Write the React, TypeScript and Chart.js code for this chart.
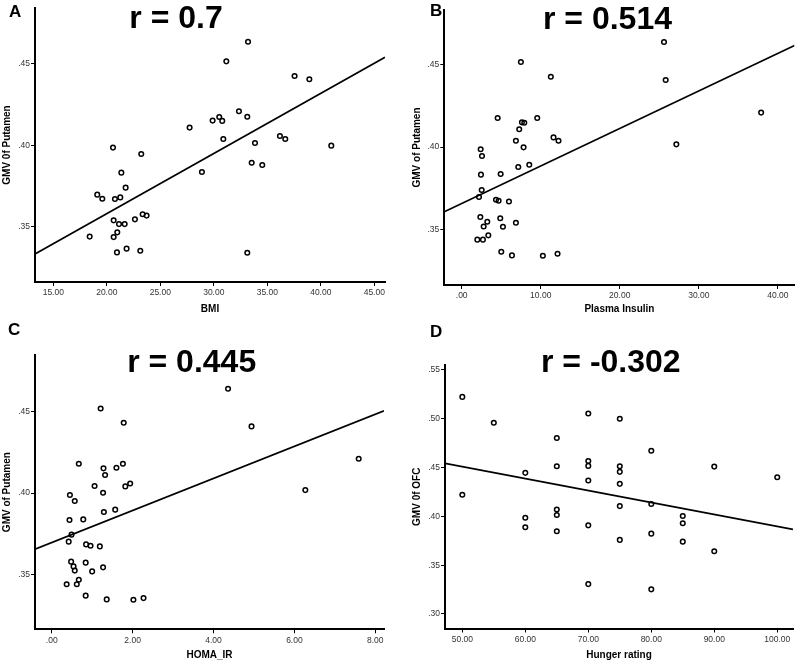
import React, { useEffect, useRef } from "react";
import { Chart, registerables } from "chart.js";
Chart.register(...registerables);

const FONT = "'Liberation Sans', Arial, Helvetica, sans-serif";

// ---------- Panel A: BMI vs GMV of Putamen ----------
const aBMI = [33.2, 31.17, 37.55, 38.93, 32.35, 30.51, 33.13, 29.89, 30.79, 27.74, 30.89, 36.18, 36.68, 33.85, 40.98, 20.58, 23.22, 33.54, 34.53, 28.89, 21.36, 21.76, 19.11, 19.58, 20.76, 21.26, 23.35, 23.72, 22.63, 20.64, 21.14, 21.67, 20.98, 18.4, 20.64, 21.85, 23.13, 20.95, 33.13];
const aGMV = [0.4637, 0.4516, 0.4426, 0.4406, 0.4209, 0.4174, 0.4176, 0.4152, 0.415, 0.4109, 0.4039, 0.4057, 0.4039, 0.4014, 0.3998, 0.3986, 0.3947, 0.3893, 0.3879, 0.3836, 0.3832, 0.374, 0.3697, 0.3672, 0.367, 0.368, 0.3576, 0.3568, 0.3545, 0.3539, 0.3516, 0.3516, 0.3465, 0.3439, 0.3436, 0.3365, 0.3352, 0.3342, 0.334];
const aXTicks = [15, 20, 25, 30, 35, 40, 45];
const aYTicks = [0.35, 0.4, 0.45];
const aFit = { intercept: 0.2841, slope: 0.003696 };

// ---------- Panel B: Plasma Insulin vs GMV of Putamen ----------
const bInsulin = [25.6, 7.49, 11.28, 25.81, 37.89, 4.55, 9.56, 7.62, 7.92, 7.28, 11.62, 12.25, 6.86, 27.16, 2.4, 7.83, 2.57, 8.55, 7.16, 2.44, 4.93, 2.53, 2.19, 4.34, 4.67, 5.98, 2.36, 4.88, 3.24, 6.86, 2.78, 5.22, 3.37, 1.98, 2.69, 5.01, 6.36, 10.27, 12.13];
const bGMV = [0.4635, 0.4514, 0.4425, 0.4405, 0.4208, 0.4175, 0.4175, 0.4149, 0.4147, 0.4107, 0.4058, 0.4038, 0.4038, 0.4016, 0.3986, 0.3998, 0.3946, 0.3893, 0.3879, 0.3833, 0.3837, 0.374, 0.3698, 0.3681, 0.3675, 0.3671, 0.3577, 0.3569, 0.3548, 0.3542, 0.352, 0.3518, 0.3466, 0.344, 0.344, 0.3367, 0.3345, 0.3343, 0.3355];
const bXTicks = [0, 10, 20, 30, 40];
const bYTicks = [0.35, 0.4, 0.45];
const bFit = { intercept: 0.3659, slope: 0.002267 };

// ---------- Panel C: HOMA_IR vs GMV of Putamen ----------
const cHoma = [4.36, 1.21, 1.78, 4.94, 7.59, 0.67, 1.76, 1.28, 1.6, 1.32, 1.94, 1.82, 1.06, 6.27, 0.45, 1.27, 0.57, 1.57, 1.29, 0.44, 0.78, 0.49, 0.42, 0.85, 0.96, 1.19, 0.48, 0.84, 0.54, 1.27, 0.57, 1.0, 0.67, 0.37, 0.62, 0.84, 1.36, 2.02, 2.27];
const cGMV = [0.4641, 0.452, 0.4432, 0.441, 0.4211, 0.418, 0.418, 0.4152, 0.4156, 0.4111, 0.4059, 0.4041, 0.4043, 0.4018, 0.3988, 0.4002, 0.3951, 0.3898, 0.3883, 0.3834, 0.3838, 0.3744, 0.3701, 0.3684, 0.3676, 0.3672, 0.3578, 0.3572, 0.3549, 0.3543, 0.3523, 0.3518, 0.3467, 0.3439, 0.3439, 0.3369, 0.3346, 0.3344, 0.3354];
const cXTicks = [0, 2, 4, 6, 8];
const cYTicks = [0.35, 0.4, 0.45];
const cFit = { intercept: 0.3696, slope: 0.009854 };

// ---------- Panel D: Hunger rating vs GMV of OFC ----------
const dHunger = [50, 55, 65, 70, 75, 80, 70, 70, 65, 75, 75, 90, 60, 70, 75, 100, 50, 80, 75, 65, 65, 85, 60, 85, 60, 70, 80, 65, 75, 85, 90, 70, 80];
const dGMV = [0.5224, 0.4959, 0.4803, 0.5054, 0.5, 0.4673, 0.4568, 0.4517, 0.4514, 0.4514, 0.4456, 0.451, 0.4446, 0.4367, 0.4333, 0.4401, 0.4221, 0.4126, 0.4105, 0.4071, 0.4014, 0.4003, 0.3986, 0.3929, 0.3888, 0.3908, 0.3823, 0.3847, 0.3759, 0.3741, 0.3643, 0.3306, 0.3252];
const dXTicks = [50, 60, 70, 80, 90, 100];
const dYTicks = [0.3, 0.35, 0.4, 0.45, 0.5, 0.55];
const dFit = { intercept: 0.5122, slope: -0.001224 };

type Panel = {
  letter: string;
  title: string;
  xLabel: string;
  yLabel: string;
  xs: number[];
  ys: number[];
  xTicks: number[];
  yTicks: number[];
  fit: { intercept: number; slope: number };
  xRange: [number, number];
  yRange: [number, number];
  box: { left: number; top: number; width: number; height: number };
  pad: { left: number; top: number; right: number; bottom: number };
  yW: number;
  xH: number;
  xTitlePB: number;
  yTitlePT: number;
  letterPos: [number, number];
  titlePos: [number, number];
};

const panels: Panel[] = [
  {
    letter: "A", title: "r = 0.7", xLabel: "BMI", yLabel: "GMV 0f Putamen",
    xs: aBMI, ys: aGMV, xTicks: aXTicks, yTicks: aYTicks, fit: aFit,
    xRange: [13.29, 46.0], yRange: [0.316, 0.4844],
    box: { left: 0, top: 0, width: 400, height: 325 },
    pad: { left: 0, top: 8, right: 15, bottom: 0 },
    yW: 35, xH: 43, xTitlePB: 10, yTitlePT: 1,
    letterPos: [9, 16.5], titlePos: [176, 28.3],
  },
  {
    letter: "B", title: "r = 0.514", xLabel: "Plasma Insulin", yLabel: "GMV of Putamen",
    xs: bInsulin, ys: bGMV, xTicks: bXTicks, yTicks: bYTicks, fit: bFit,
    xRange: [-2.2, 42.11], yRange: [0.3166, 0.4828],
    box: { left: 400, top: 0, width: 400, height: 328 },
    pad: { left: 0, top: 10, right: 5, bottom: 0 },
    yW: 44.3, xH: 43, xTitlePB: 13, yTitlePT: 11,
    letterPos: [30, 16.3], titlePos: [207.5, 29],
  },
  {
    letter: "C", title: "r = 0.445", xLabel: "HOMA_IR", yLabel: "GMV of Putamen",
    xs: cHoma, ys: cGMV, xTicks: cXTicks, yTicks: cYTicks, fit: cFit,
    xRange: [-0.413, 8.215], yRange: [0.3162, 0.4849],
    box: { left: 0, top: 318, width: 400, height: 347 },
    pad: { left: 0, top: 37, right: 16, bottom: 0 },
    yW: 35, xH: 35.7, xTitlePB: 4, yTitlePT: 1,
    letterPos: [8, 16.8], titlePos: [191.7, 53.7],
  },
  {
    letter: "D", title: "r = -0.302", xLabel: "Hunger rating", yLabel: "GMV 0f OFC",
    xs: dHunger, ys: dGMV, xTicks: dXTicks, yTicks: dYTicks, fit: dFit,
    xRange: [47.25, 102.5], yRange: [0.2851, 0.5551],
    box: { left: 400, top: 318, width: 400, height: 347 },
    pad: { left: 0, top: 47, right: 7, bottom: 0 },
    yW: 45, xH: 36.5, xTitlePB: 4, yTitlePT: 11,
    letterPos: [30, 18.5], titlePos: [210.8, 53.7],
  },
];

const fmt = (v: number | string) => {
  const s = Number(v).toFixed(2);
  if (s.startsWith("0.")) return s.slice(1);
  if (s.startsWith("-0.")) return "-" + s.slice(2);
  return s;
};

function ScatterPanel({ p }: { p: Panel }) {
  const ref = useRef<HTMLCanvasElement | null>(null);
  useEffect(() => {
    if (!ref.current) return;
    const points = p.xs.map((x, i) => ({ x, y: p.ys[i] }));
    const linePts = p.xRange.map((x) => ({ x, y: p.fit.intercept + p.fit.slope * x }));
    const textPlugin = {
      id: "panelText",
      afterDraw(chart: any) {
        const ctx = chart.ctx as CanvasRenderingContext2D;
        ctx.save();
        ctx.fillStyle = "#000";
        ctx.textBaseline = "alphabetic";
        ctx.textAlign = "left";
        ctx.font = `bold 17px ${FONT}`;
        ctx.fillText(p.letter, p.letterPos[0], p.letterPos[1]);
        ctx.textAlign = "center";
        ctx.font = `bold 32px ${FONT}`;
        ctx.fillText(p.title, p.titlePos[0], p.titlePos[1]);
        ctx.restore();
      },
    };
    const chart = new Chart(ref.current, {
      type: "scatter",
      data: {
        datasets: [
          {
            type: "scatter",
            data: points,
            pointRadius: 2.3,
            pointBorderWidth: 1.5,
            borderColor: "#000",
            backgroundColor: "rgba(255,255,255,0)",
            pointStyle: "circle",
          } as any,
          {
            type: "line",
            data: linePts,
            borderColor: "#000",
            borderWidth: 1.7,
            pointRadius: 0,
            fill: false,
            showLine: true,
          } as any,
        ],
      },
      options: {
        animation: false,
        responsive: false,
        devicePixelRatio: 1,
        layout: { padding: p.pad },
        plugins: { legend: { display: false }, tooltip: { enabled: false }, title: { display: false } },
        scales: {
          x: {
            type: "linear",
            position: "bottom",
            min: p.xRange[0],
            max: p.xRange[1],
            afterBuildTicks: (s: any) => {
              s.ticks = p.xTicks.map((v) => ({ value: v }));
            },
            afterFit: (s: any) => {
              s.height = p.xH;
            },
            grid: { drawOnChartArea: false, drawTicks: true, tickLength: 4, tickColor: "#000", lineWidth: 1 },
            border: { display: true, color: "#000", width: 2 },
            ticks: {
              font: { size: 8.5, family: FONT },
              color: "#333",
              padding: 2,
              maxRotation: 0,
              minRotation: 0,
              autoSkip: false,
              callback: (v: any) => fmt(v),
            },
            title: {
              display: true,
              text: p.xLabel,
              color: "#000",
              font: { size: 10, weight: "bold", family: FONT },
              padding: { top: 0, bottom: p.xTitlePB },
            },
          },
          y: {
            type: "linear",
            position: "left",
            min: p.yRange[0],
            max: p.yRange[1],
            afterBuildTicks: (s: any) => {
              s.ticks = p.yTicks.map((v) => ({ value: v }));
            },
            afterFit: (s: any) => {
              s.width = p.yW;
            },
            grid: { drawOnChartArea: false, drawTicks: true, tickLength: 4, tickColor: "#000", lineWidth: 1 },
            border: { display: true, color: "#000", width: 2 },
            ticks: {
              font: { size: 8.5, family: FONT },
              color: "#333",
              padding: 1,
              autoSkip: false,
              callback: (v: any) => fmt(v),
            },
            title: {
              display: true,
              text: p.yLabel,
              color: "#000",
              font: { size: 10, weight: "bold", family: FONT },
              padding: { top: p.yTitlePT, bottom: 0 },
            },
          },
        },
      } as any,
      plugins: [textPlugin],
    });
    return () => chart.destroy();
  }, [p]);
  return (
    <canvas
      ref={ref}
      width={p.box.width}
      height={p.box.height}
      style={{
        position: "absolute",
        left: p.box.left,
        top: p.box.top,
        width: p.box.width,
        height: p.box.height,
      }}
    />
  );
}

export default function App() {
  return (
    <div
      style={{
        position: "absolute",
        left: 0,
        top: 0,
        width: 800,
        height: 665,
        background: "#fff",
        overflow: "hidden",
      }}
    >
      {panels.map((p) => (
        <ScatterPanel key={p.letter} p={p} />
      ))}
    </div>
  );
}
